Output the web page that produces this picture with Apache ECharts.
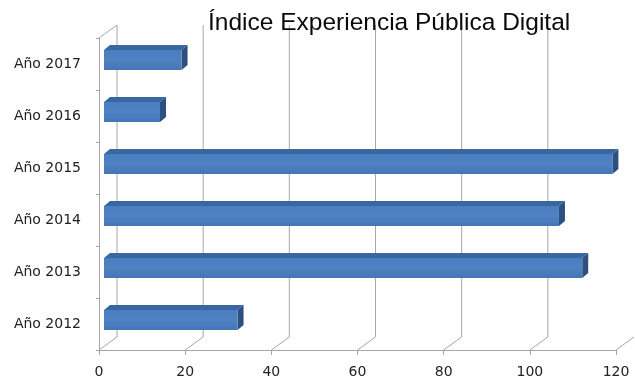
<!DOCTYPE html>
<html>
<head>
<meta charset="utf-8">
<script src="https://cdn.jsdelivr.net/npm/echarts@6/dist/echarts.min.js"></script>
<style>
html,body{margin:0;padding:0;background:#fff;}
#chart{width:635px;height:381px;}
</style>
</head>
<body>
<div id="chart"></div>
<script>
const titleText = 'Índice Experiencia Pública Digital';
const categories = ['Año 2012', 'Año 2013', 'Año 2014', 'Año 2015', 'Año 2016', 'Año 2017'];
const values = [31, 111, 105.6, 118, 13, 18];
const xTicks = [0, 20, 40, 60, 80, 100, 120];

const chart = echarts.init(document.getElementById('chart'));

const DX = 18, DY = -13;      // depth of the back wall
const BX = 5, BY = -4;        // bar front plane offset
const SX = 6, SY = -5;        // bar depth
const BAR_H = 20;

function renderWall(params, api) {
  const v = api.value(0);
  const cs = params.coordSys;
  const x = api.coord([v, 0])[0];
  const yb = cs.y + cs.height;
  const yt = cs.y;
  const style = { stroke: '#a6a6a6', lineWidth: 1 };
  const children = [
    { type: 'line', shape: { x1: x, y1: yb, x2: x + DX, y2: yb + DY }, style: style }
  ];
  if (x + DX <= 632) {
    children.push({ type: 'line', shape: { x1: x + DX, y1: yb + DY, x2: x + DX, y2: yt + DY }, style: style });
  }
  if (v === 0) {
    children.push({ type: 'line', shape: { x1: x, y1: yt, x2: x + DX, y2: yt + DY }, style: style });
  }
  return { type: 'group', children: children };
}

function renderBar(params, api) {
  const v = api.value(0);
  const c = api.value(1);
  const p0 = api.coord([0, c]);
  const p1 = api.coord([v, c]);
  const x0 = p0[0] + BX, x1 = p1[0] + BX;
  const yc = p0[1] + BY;
  const yTop = yc - BAR_H / 2, yBot = yc + BAR_H / 2;
  return {
    type: 'group',
    children: [
      { type: 'polygon', shape: { points: [[x0, yTop], [x1, yTop], [x1 + SX, yTop + SY], [x0 + SX, yTop + SY]] },
        style: { fill: '#3a679f' } },
      { type: 'polygon', shape: { points: [[x1, yTop], [x1 + SX, yTop + SY], [x1 + SX, yBot + SY], [x1, yBot]] },
        style: { fill: '#2c5080' } },
      { type: 'rect', shape: { x: x0, y: yTop, width: x1 - x0, height: BAR_H },
        style: { fill: new echarts.graphic.LinearGradient(0, 0, 0, 1, [
          { offset: 0, color: '#4a7ec0' }, { offset: 0.5, color: '#4f82c2' }, { offset: 1, color: '#4675b3' }]) } }
    ]
  };
}

chart.setOption({
  animation: false,
  backgroundColor: '#ffffff',
  title: {
    text: titleText,
    left: 203,
    top: 6,
    textStyle: { fontFamily: 'Liberation Sans', fontSize: 24.5, fontWeight: 'normal', color: '#0a0a0a' }
  },
  grid: { left: 99, right: 19, top: 38, bottom: 31, containLabel: false },
  xAxis: {
    type: 'value',
    min: 0, max: 120, interval: 20,
    axisLine: { show: true, lineStyle: { color: '#a6a6a6', width: 1 } },
    axisTick: { show: true, length: 5, lineStyle: { color: '#a6a6a6' } },
    axisLabel: { fontFamily: 'DejaVu Sans', fontSize: 14, color: '#222', margin: 15 },
    splitLine: { show: false }
  },
  yAxis: {
    type: 'category',
    data: categories,
    axisLine: { show: true, lineStyle: { color: '#a6a6a6', width: 1 } },
    axisTick: { show: true, length: 3, lineStyle: { color: '#a6a6a6' } },
    axisLabel: { fontFamily: 'DejaVu Sans', fontSize: 14, color: '#222', margin: 18, padding: [5, 0, 0, 0] },
    splitLine: { show: false }
  },
  series: [
    {
      type: 'custom',
      renderItem: renderWall,
      data: xTicks.map(v => [v, 0]),
      encode: { x: 0, y: 1 },
      z: 1,
      silent: true
    },
    {
      type: 'custom',
      renderItem: renderBar,
      data: values.map((v, i) => [v, i]),
      encode: { x: 0, y: 1 },
      z: 3
    }
  ]
});
</script>
</body>
</html>
